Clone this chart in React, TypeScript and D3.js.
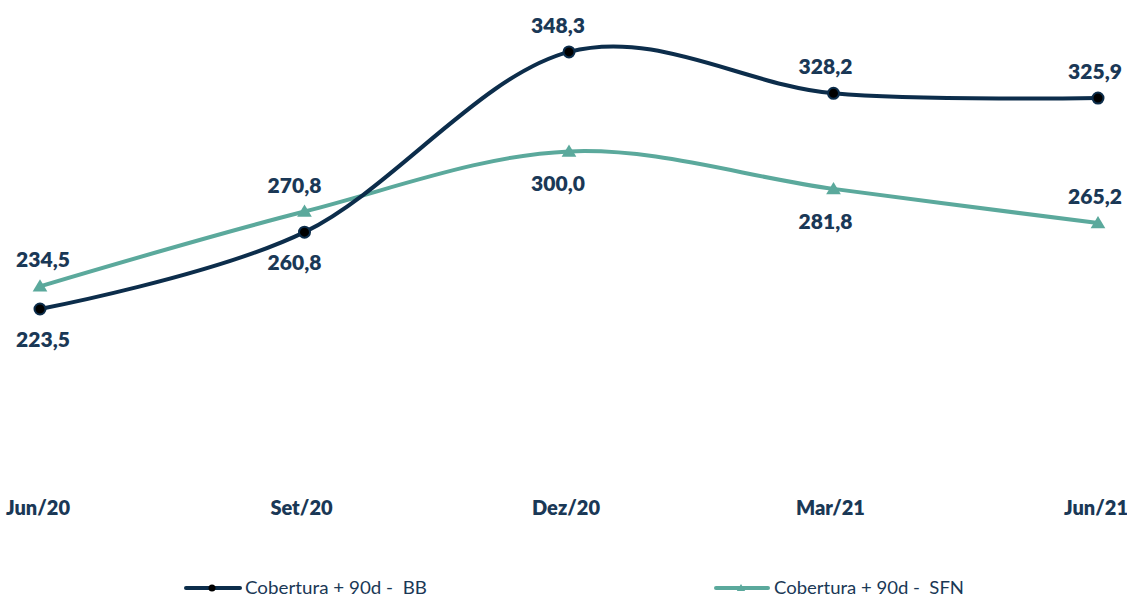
import React from "react";
import * as d3 from "d3";

const categories = ["Jun/20", "Set/20", "Dez/20", "Mar/21", "Jun/21"];
const bbValues = [223.5, 260.8, 348.3, 328.2, 325.9];
const sfnValues = [234.5, 270.8, 300.0, 281.8, 265.2];
const bbLabelPos = ["below", "below", "above", "above", "above"];
const sfnLabelPos = ["above", "above", "below", "below", "above"];
const seriesNames = ["Cobertura + 90d -  BB", "Cobertura + 90d -  SFN"];

const W = 1127;
const H = 599;
const BB = "#0c2d4b";
const SFN = "#5ba99c";
const TXT = "#1a3856";
const FONT = "Lato, 'Open Sans', sans-serif";

const fmt = (v: number) => v.toFixed(1).replace(".", ",");
const labelDx = [3, -10, -11, -8, -3];

export default function App() {
  const x = d3.scalePoint<string>().domain(categories).range([40, 1098]);
  const y = d3.scaleLinear().domain([130, 360]).range([501.6, 27.8]);
  const line = d3
    .line<number>()
    .x((_, i) => x(categories[i]) as number)
    .y((d) => y(d))
    .curve(d3.curveCardinal.tension(0));

  const tri = (cx: number, cy: number, s: number) =>
    `M${cx},${cy - s}L${cx + s * 1.05},${cy + s * 0.75}L${cx - s * 1.05},${cy + s * 0.75}Z`;

  return (
    <svg width={W} height={H} style={{ position: "absolute", left: 0, top: 0, background: "#fff" }}>
      <path d={line(sfnValues) || ""} fill="none" stroke={SFN} strokeWidth={4} />
      <path d={line(bbValues) || ""} fill="none" stroke={BB} strokeWidth={4} />
      {sfnValues.map((v, i) => (
        <path key={"s" + i} d={tri(x(categories[i]) as number, y(v), 7)} fill={SFN} />
      ))}
      {bbValues.map((v, i) => (
        <circle key={"b" + i} cx={x(categories[i]) as number} cy={y(v)} r={5.5} fill="#000" stroke={BB} strokeWidth={2} />
      ))}
      {bbValues.map((v, i) => (
        <text
          key={"bl" + i}
          x={(x(categories[i]) as number) + labelDx[i]}
          y={y(v) + (bbLabelPos[i] === "above" ? -19 : 38)}
          textAnchor="middle"
          fontFamily={FONT}
          fontWeight={800}
          fontSize={21}
          fill={TXT}
        >
          {fmt(v)}
        </text>
      ))}
      {sfnValues.map((v, i) => (
        <text
          key={"sl" + i}
          x={(x(categories[i]) as number) + labelDx[i]}
          y={y(v) + (sfnLabelPos[i] === "above" ? -19 : 40)}
          textAnchor="middle"
          fontFamily={FONT}
          fontWeight={800}
          fontSize={21}
          fill={TXT}
        >
          {fmt(v)}
        </text>
      ))}
      {categories.map((c, i) => (
        <text
          key={"c" + i}
          x={(x(c) as number) + (i === 0 ? -2 : i === 4 ? -2 : -3)}
          y={515}
          textAnchor="middle"
          fontFamily={FONT}
          fontWeight={800}
          fontSize={20}
          fill={TXT}
        >
          {c}
        </text>
      ))}
      <g>
        <line x1={186} x2={240} y1={588} y2={588} stroke={BB} strokeWidth={4} strokeLinecap="round" />
        <circle cx={212} cy={588} r={3.5} fill="#000" />
        <text
          x={245}
          y={594}
          fontFamily={FONT}
          fontSize={18}
          fill={TXT}
          textLength={182}
          lengthAdjust="spacingAndGlyphs"
          style={{ whiteSpace: "pre" }}
        >
          {seriesNames[0]}
        </text>
        <line x1={716} x2={768} y1={588} y2={588} stroke={SFN} strokeWidth={4} strokeLinecap="round" />
        <path d={tri(741, 588, 4)} fill={SFN} />
        <text
          x={774}
          y={594}
          fontFamily={FONT}
          fontSize={18}
          fill={TXT}
          textLength={190}
          lengthAdjust="spacingAndGlyphs"
          style={{ whiteSpace: "pre" }}
        >
          {seriesNames[1]}
        </text>
      </g>
    </svg>
  );
}
